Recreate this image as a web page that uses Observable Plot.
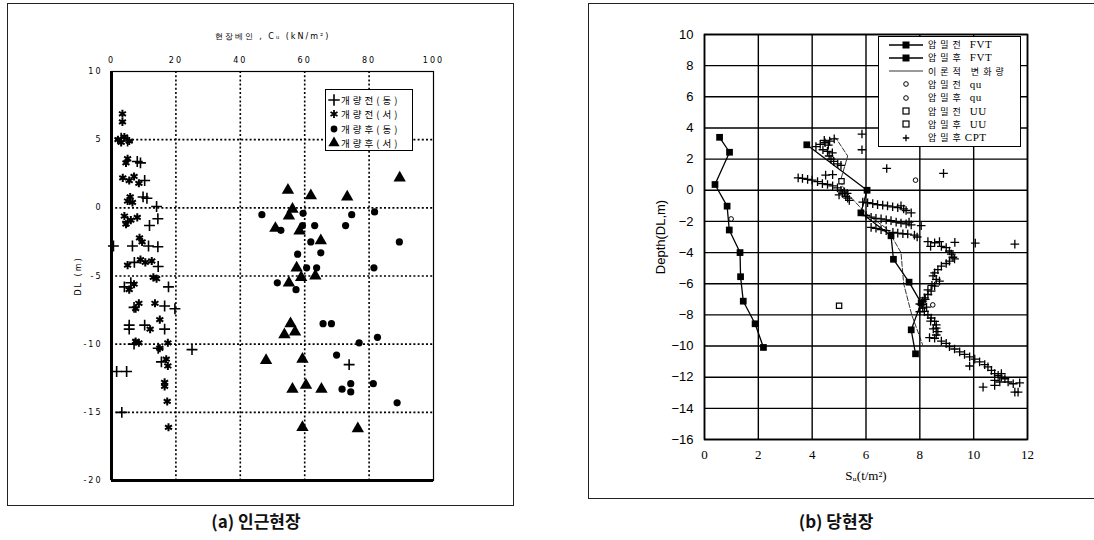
<!DOCTYPE html>
<html><head><meta charset="utf-8">
<script src="https://cdn.jsdelivr.net/npm/d3@7"></script>
<script src="https://cdn.jsdelivr.net/npm/@observablehq/plot@0.6"></script>
<style>
body{margin:0;background:#fff;width:1094px;height:540px;position:relative;overflow:hidden;font-family:"Liberation Sans",sans-serif;color:#000}
.frame{position:absolute;border:1.5px solid #222;box-sizing:border-box}
.abs{position:absolute}
.cap{position:absolute;top:508px;font-family:"Noto Sans CJK KR","Noto Sans",sans-serif;font-weight:700;font-size:17px;color:#111;transform:translateX(-50%);white-space:nowrap}
.lega{position:absolute;left:325px;top:89px;width:88px;height:62px;border:1.2px solid #000;background:#fff;box-sizing:border-box;font-family:"Noto Sans CJK KR",sans-serif;font-size:9.5px;letter-spacing:3px;color:#000}
.lega .row,.legb .row{position:absolute;white-space:nowrap;display:flex;align-items:center}
.legb{position:absolute;left:878px;top:36px;width:143px;height:111px;border:1.2px solid #000;background:#fff;box-sizing:border-box;font-family:"Noto Sans CJK KR",serif;font-size:9px;color:#000}
.legb .lab{display:flex;align-items:baseline;margin-left:5px}
.legb .t{letter-spacing:4px;font-size:9px}
.legb .e{font-family:"Liberation Serif",serif;letter-spacing:0.5px;margin-left:5px;font-size:11px}
</style></head><body>
<div class="frame" style="left:7px;top:3px;width:507px;height:503px"></div>
<div class="frame" style="left:588px;top:3px;width:512px;height:496px"></div>
<div id="pa" class="abs" style="left:7px;top:3px"></div>
<div id="pb" class="abs" style="left:588px;top:3px"></div>
<div class="cap" style="left:256px">(a) 인근현장</div>
<div class="cap" style="left:836px">(b) 당현장</div>
<script>
// ---------- Panel (a) data ----------
const aXTicks = [0, 20, 40, 60, 80, 100];
const aYTicks = [10, 5, 0, -5, -10, -15, -20];
const aSeriesNames = ["개량전(동)", "개량전(서)", "개량후(동)", "개량후(서)"];
const beforeEast = [[3,5.1],[5,4.9],[8,3.4],[9,3.3],[10.3,2.0],[9.8,0.8],[11,0.7],[14,0.1],[11.8,-1.3],[14.4,-0.8],[5,-1.0],[0.6,-2.8],[6.5,-2.8],[11.5,-2.8],[14.4,-2.85],[7.1,-4.0],[14.5,-4.3],[4,-5.8],[6,-5.5],[17.7,-5.8],[7,-7.3],[16.5,-7.2],[19.7,-7.4],[5.5,-8.6],[5.5,-8.9],[10.3,-8.6],[16.5,-8.9],[7,-10],[14.5,-10.3],[25,-10.4],[15.5,-11.3],[1.6,-12.0],[4.7,-12.0],[3.2,-15],[73.8,-11.5]];
const beforeWest = [[3.4,6.9],[3.4,6.3],[2,5.0],[4,5.2],[5.5,4.9],[3,4.8],[5,3.6],[4.5,3.3],[3.5,2.2],[5.5,2.0],[7,2.3],[8.5,1.8],[5.8,0.8],[6.5,0.4],[5,0.5],[4,-0.6],[6,-0.9],[8,-0.7],[4.5,-1.2],[8.7,-2.2],[9.5,-2.5],[5,-4.2],[9,-3.8],[10.5,-4.0],[12.5,-3.9],[13,-5.1],[14,-5.2],[7,-5.6],[5.5,-6.0],[8.5,-7.0],[13.5,-7.0],[7.5,-7.4],[15,-8.2],[12,-8.9],[7.5,-9.8],[8.5,-9.9],[15,-10.3],[17.5,-9.9],[17,-11.1],[17.5,-11.6],[16.5,-12.8],[16.5,-13.1],[17.3,-14.2],[17.7,-16.1]];
const afterEast = [[46.7,-0.5],[59.5,-0.4],[74.6,-0.5],[81.7,-0.3],[59.3,-1.3],[63.1,-1.3],[72.7,-1.3],[52.6,-1.65],[61.9,-2.5],[89.4,-2.5],[57.8,-3.4],[65,-3.3],[60.6,-4.4],[63.7,-4.4],[81.5,-4.4],[51.5,-5.5],[57.3,-6.0],[65.7,-8.5],[68.3,-8.5],[82.6,-9.5],[76.9,-9.9],[69.9,-10.8],[74.3,-12.9],[81.3,-12.9],[71.6,-13.3],[74.3,-13.5],[88.7,-14.3]];
const afterWest = [[89.5,2.2],[54.8,1.3],[61.9,0.9],[73.2,0.8],[56.2,-0.1],[55.1,-0.6],[50.9,-1.5],[58.4,-1.7],[65,-2.4],[57.5,-4.4],[58.9,-5.1],[63.3,-5.0],[55.1,-5.5],[55.6,-8.5],[53.7,-9.3],[57,-9.1],[48,-11.2],[59.3,-11.1],[56.2,-13.3],[60.4,-13.0],[65.2,-13.3],[59.3,-16.1],[76.5,-16.2]];

// ---------- Panel (b) data ----------
const bXTicks = [0, 2, 4, 6, 8, 10, 12];
const bYTicks = [10, 8, 6, 4, 2, 0, -2, -4, -6, -8, -10, -12, -14, -16];
const bSeriesNames = ["압밀전 FVT", "압밀후 FVT", "이론적 변화량", "압밀전 qu", "압밀후 qu", "압밀전 UU", "압밀후 UU", "압밀후CPT"];
const preFVT = [[0.56,3.4],[0.93,2.44],[0.39,0.37],[0.84,-1.02],[0.92,-2.55],[1.32,-4.0],[1.34,-5.55],[1.44,-7.12],[1.88,-8.57],[2.19,-10.09]];
const postFVT = [[3.8,2.92],[6.04,0.0],[5.81,-1.45],[6.93,-2.92],[7.02,-4.43],[7.6,-5.9],[8.05,-7.23],[7.68,-8.96],[7.84,-10.5]];
const theory = [[4.3,3.05],[4.88,3.35],[5.32,2.2],[5.05,0.6],[5.2,0.0],[6.0,-1.5],[6.8,-2.5],[7.3,-4.0],[7.4,-6.0],[7.7,-8.0],[8.1,-9.9]];
const preQu = [[0.99,-1.84]];
const postQu = [[7.84,0.65],[8.48,-7.36]];
const preUU = [[5.09,0.58]];
const postUU = [[5.0,-7.41]];
const postCPT = [[5.85,3.61],[5.85,2.6],[6.77,1.4],[8.88,1.08],[10.06,-3.39],[11.53,-3.46],
[4.14,2.8],[4.3,2.95],[4.48,3.05],[4.65,3.15],[4.82,3.3],[4.45,3.2],[4.6,2.9],[4.57,2.5],[4.63,2.2],[4.7,2.0],[4.8,1.85],[4.95,1.7],[5.07,1.6],[4.4,2.6],[4.75,2.4],
[3.48,0.8],[3.64,0.76],[3.83,0.7],[4.0,0.65],[4.2,0.55],[4.38,0.43],[4.57,0.37],[4.76,0.28],[4.94,0.15],[5.07,0.0],[5.13,-0.2],[5.25,-0.4],[5.32,-0.5],[5.2,-0.1],[5.38,-0.65],[4.5,0.97],[4.76,1.0],[5.0,-0.3],[5.3,-0.2],
[5.88,-0.76],[6.06,-0.8],[6.25,-0.86],[6.43,-0.92],[6.62,-0.95],[6.8,-1.0],[6.99,-1.06],[7.18,-1.12],[7.3,-1.0],[7.49,-1.3],[7.68,-1.45],[7.4,-1.2],
[6.0,-1.62],[6.19,-1.73],[6.37,-1.8],[6.56,-1.84],[6.75,-1.9],[6.93,-1.95],[7.12,-2.05],[7.3,-2.1],[7.49,-2.16],[7.68,-2.22],[8.05,-2.27],[7.6,-2.05],
[6.19,-2.38],[6.37,-2.44],[6.56,-2.53],[6.75,-2.59],[7.0,-2.7],[7.18,-2.75],[7.37,-2.79],[7.55,-2.81],[7.8,-2.88],[7.9,-3.0],
[8.3,-3.3],[8.55,-3.37],[8.73,-3.3],[9.3,-3.35],[8.4,-3.6],
[8.8,-3.6],[8.98,-3.68],[9.1,-3.9],[9.17,-4.1],[9.23,-4.3],[9.29,-4.4],[9.1,-4.55],[8.98,-4.7],[8.8,-4.87],[8.67,-5.1],[8.55,-5.3],[8.49,-5.5],[8.61,-5.72],[8.73,-5.83],
[8.55,-6.15],[8.42,-6.48],[8.3,-6.69],[8.17,-6.91],[8.11,-7.12],[8.07,-7.34],[8.11,-7.56],[8.17,-7.77],[8.3,-7.99],[8.42,-8.2],[8.55,-8.42],[8.61,-8.64],[8.61,-8.85],[8.67,-9.07],[8.61,-9.29],
[8.2,-7.0],[8.0,-7.3],[8.25,-7.5],[8.0,-7.8],[8.4,-8.4],[8.5,-8.9],[8.3,-6.4],[8.45,-6.1],
[8.36,-9.46],[8.55,-9.5],[8.8,-9.68],[8.98,-9.83],[9.1,-10.04],[9.29,-10.19],[9.48,-10.37],[9.66,-10.54],[9.85,-10.69],[10.04,-10.84],[10.22,-11.02],[10.41,-11.19],[10.53,-11.34],[10.66,-11.56],[10.78,-11.77],[10.91,-11.88],[11.03,-11.99],[11.16,-12.1],[11.28,-12.31],[11.47,-12.42],[11.71,-12.36],
[9.85,-11.28],[10.35,-12.64],[10.78,-12.53],[10.97,-12.31],[11.53,-12.96],[11.65,-12.96],[10.78,-12.2],[11.03,-11.77]];

const X = d => d[0], Y = d => d[1];

// ---------- Panel (a) ----------
const pa = Plot.plot({
  width: 506, height: 502,
  marginLeft: 104, marginRight: 80, marginTop: 68, marginBottom: 25,
  x: {domain: [0, 100]},
  y: {domain: [-20, 10]},
  style: {fontFamily: "'DejaVu Sans', sans-serif", fontSize: "8px", background: "transparent", color: "#000", letterSpacing: "2px"},
  marks: [
    Plot.gridX(aXTicks.filter(d => d > 0 && d < 100), {stroke: "#000", strokeOpacity: 1, strokeWidth: 1.6, strokeDasharray: "2,2.2"}),
    Plot.gridY(aYTicks.filter(d => d > -20 && d < 10), {stroke: "#000", strokeOpacity: 1, strokeWidth: 1.6, strokeDasharray: "2,2.2"}),
    Plot.frame({stroke: "#000", strokeWidth: 1.2}),
    Plot.ruleX([0], {stroke: "#000", strokeWidth: 3}),
    Plot.ruleY([-20], {stroke: "#000", strokeWidth: 3}),
    Plot.axisX(aXTicks, {anchor: "top", tickSize: 0, tickPadding: 9, label: "현장베인 , Cᵤ (kN/m²)", labelAnchor: "center", labelOffset: 38, labelArrow: "none"}),
    Plot.axisY(aYTicks, {anchor: "left", tickSize: 0, tickPadding: 9, label: "DL (m)", labelAnchor: "center", labelOffset: 36, labelArrow: "none", tickFormat: d => d < 0 ? "-" + Math.abs(d) : String(d)}),
    Plot.dot(beforeEast, {x: X, y: Y, symbol: "plus", stroke: "#000", strokeWidth: 1.6, r: 3.6}),
    Plot.dot(beforeWest, {x: X, y: Y, symbol: "asterisk", stroke: "#000", strokeWidth: 2, r: 3.8}),
    Plot.dot(afterEast, {x: X, y: Y, symbol: "circle", fill: "#000", stroke: "none", r: 3.6}),
    Plot.dot(afterWest, {x: X, y: Y, symbol: "triangle", fill: "#000", stroke: "none", r: 4.6})
  ]
});
document.getElementById("pa").appendChild(pa);

// ---------- Panel (b) ----------
const pb = Plot.plot({
  width: 506, height: 495,
  marginLeft: 116, marginRight: 67, marginTop: 31, marginBottom: 59,
  x: {domain: [0, 12]},
  y: {domain: [-16, 10]},
  style: {fontFamily: "'Liberation Sans', sans-serif", fontSize: "13px", background: "transparent", color: "#000"},
  marks: [
    Plot.gridX(bXTicks, {stroke: "#000", strokeOpacity: 1, strokeWidth: 1.4}),
    Plot.gridY(bYTicks, {stroke: "#000", strokeOpacity: 1, strokeWidth: 1.4}),
    Plot.frame({stroke: "#000", strokeWidth: 1.6}),
    Plot.axisX(bXTicks, {anchor: "bottom", tickSize: 0, tickPadding: 10, label: "Sᵤ(t/m²)", labelAnchor: "center", labelOffset: 40, labelArrow: "none", fontFamily: "'Liberation Serif', serif"}),
    Plot.axisY(bYTicks, {anchor: "left", tickSize: 0, tickPadding: 11, label: "Depth(DL,m)", labelAnchor: "center", labelOffset: 49, labelArrow: "none", tickFormat: d => d < 0 ? "−" + Math.abs(d) : String(d)}),
    Plot.line(theory, {x: X, y: Y, stroke: "#000", strokeWidth: 0.8, strokeDasharray: "5,2"}),
    Plot.line(preFVT, {x: X, y: Y, stroke: "#000", strokeWidth: 1.3}),
    Plot.line(postFVT, {x: X, y: Y, stroke: "#000", strokeWidth: 1.3}),
    Plot.dot(postCPT, {x: X, y: Y, symbol: "plus", stroke: "#000", strokeWidth: 1.3, r: 2.9}),
    Plot.dot(preFVT, {x: X, y: Y, symbol: "square", fill: "#000", stroke: "none", r: 3.8}),
    Plot.dot(postFVT, {x: X, y: Y, symbol: "square", fill: "#000", stroke: "none", r: 3.8}),
    Plot.dot(preQu, {x: X, y: Y, symbol: "circle", fill: "#fff", stroke: "#000", strokeWidth: 1, r: 2.3}),
    Plot.dot(postQu, {x: X, y: Y, symbol: "circle", fill: "#fff", stroke: "#000", strokeWidth: 1, r: 2.3}),
    Plot.dot(preUU, {x: X, y: Y, symbol: "square", fill: "#fff", stroke: "#000", strokeWidth: 1.2, r: 3}),
    Plot.dot(postUU, {x: X, y: Y, symbol: "square", fill: "#fff", stroke: "#000", strokeWidth: 1.2, r: 3})
  ]
});
document.getElementById("pb").appendChild(pb);

// ---------- Legends ----------
function sym(type, sz, opts) {
  const s = d3.symbol().type(type).size(sz)();
  return `<svg width="12" height="12" viewBox="-6 -6 12 12" style="overflow:visible"><path d="${s}" fill="${opts.fill}" stroke="${opts.stroke}" stroke-width="${opts.sw}"/></svg>`;
}
const la = document.createElement("div");
la.className = "lega";
const aSyms = [
  sym(d3.symbolPlus, 45, {fill: "none", stroke: "#000", sw: 1.6}),
  sym(d3.symbolAsterisk, 45, {fill: "none", stroke: "#000", sw: 1.8}),
  sym(d3.symbolCircle, 36, {fill: "#000", stroke: "none", sw: 0}),
  sym(d3.symbolTriangle, 55, {fill: "#000", stroke: "none", sw: 0})
];
aSeriesNames.forEach((n, i) => {
  const d = document.createElement("div");
  d.className = "row";
  d.style.left = "2px"; d.style.top = (3 + i * 14.3) + "px";
  d.innerHTML = aSyms[i] + `<span style="margin-left:1px;color:#000">${n}</span>`;
  la.appendChild(d);
});
document.body.appendChild(la);

const lb = document.createElement("div");
lb.className = "legb";
function lineSym(withSq, dashed) {
  return `<svg width="34" height="10" style="overflow:visible"><line x1="0" y1="5" x2="34" y2="5" stroke="#000" stroke-width="${dashed ? 0.8 : 1.3}"/>${withSq ? '<rect x="13.5" y="1.5" width="7" height="7" fill="#000"/>' : ''}</svg>`;
}
function ptSym(kind) {
  let inner = "";
  if (kind === "c") inner = '<circle cx="17" cy="5" r="2.3" fill="#fff" stroke="#000" stroke-width="1"/>';
  if (kind === "s") inner = '<rect x="14" y="2" width="6" height="6" fill="#fff" stroke="#000" stroke-width="1.2"/>';
  if (kind === "p") inner = '<path d="M13.8,5H20.2M17,1.8V8.2" stroke="#000" stroke-width="1.3"/>';
  return `<svg width="34" height="10" style="overflow:visible">${inner}</svg>`;
}
const bSyms = [lineSym(true, false), lineSym(true, false), lineSym(false, true), ptSym("c"), ptSym("c"), ptSym("s"), ptSym("s"), ptSym("p")];
bSeriesNames.forEach((n, i) => {
  const d = document.createElement("div");
  d.className = "row";
  d.style.left = "10px"; d.style.top = (1 + i * 13.3) + "px";
  const m = n.match(/^(\S+?)\s?(FVT|qu|UU|CPT)?$/);
  let label;
  if (n === "압밀후CPT") label = `<span class="t">압밀후</span><span class="e" style="margin-left:0">CPT</span>`;
  else if (m && m[2]) label = `<span class="t">${m[1]}</span><span class="e">${m[2]}</span>`;
  else label = `<span class="t">${n}</span>`;
  d.innerHTML = bSyms[i] + `<span class="lab">${label}</span>`;
  lb.appendChild(d);
});
document.body.appendChild(lb);
</script>
</body></html>
